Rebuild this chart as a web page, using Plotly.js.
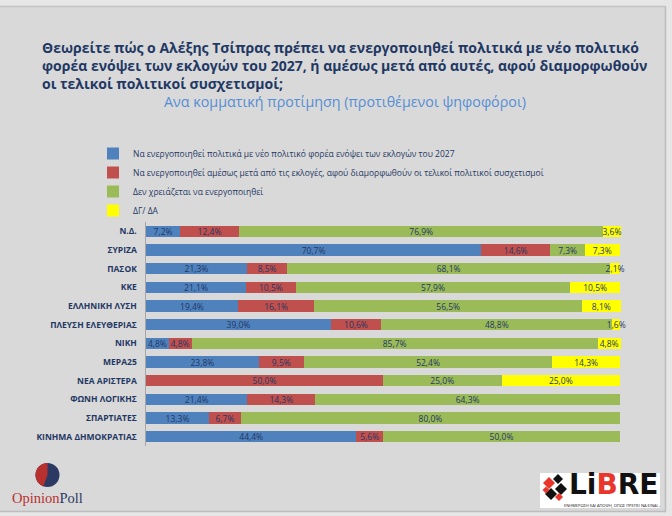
<!DOCTYPE html>
<html>
<head>
<meta charset="utf-8">
<script src="https://cdn.plot.ly/plotly-3.0.1.min.js"></script>
<style>html,body{margin:0;padding:0;background:#d9d9d9;}#chart{width:672px;height:516px;}</style>
</head>
<body>
<div id="chart"></div>
<script>
// ---- data ----
const categories = ['Ν.Δ.','ΣΥΡΙΖΑ','ΠΑΣΟΚ','ΚΚΕ','ΕΛΛΗΝΙΚΗ ΛΥΣΗ','ΠΛΕΥΣΗ ΕΛΕΥΘΕΡΙΑΣ','ΝΙΚΗ','ΜΕΡΑ25','ΝΕΑ ΑΡΙΣΤΕΡΑ','ΦΩΝΗ ΛΟΓΙΚΗΣ','ΣΠΑΡΤΙΑΤΕΣ','ΚΙΝΗΜΑ ΔΗΜΟΚΡΑΤΙΑΣ'];
const seriesNames = [
  'Να ενεργοποιηθεί πολιτικά με νέο πολιτικό φορέα ενόψει των εκλογών του 2027',
  'Να ενεργοποιηθεί αμέσως μετά από τις εκλογές, αφού διαμορφωθούν οι τελικοί πολιτικοί συσχετισμοί',
  'Δεν χρειάζεται να ενεργοποιηθεί',
  'ΔΓ/ ΔΑ'
];
const newPartyBefore2027 = [7.2, 70.7, 21.3, 21.1, 19.4, 39.0, 4.8, 23.8, 0, 21.4, 13.3, 44.4];
const rightAfterElections = [12.4, 14.6, 8.5, 10.5, 16.1, 10.6, 4.8, 9.5, 50.0, 14.3, 6.7, 5.6];
const noNeed = [76.9, 7.3, 68.1, 57.9, 56.5, 48.8, 85.7, 52.4, 25.0, 64.3, 80.0, 50.0];
const dontKnow = [3.6, 7.3, 2.1, 10.5, 8.1, 1.6, 4.8, 14.3, 25.0, 0, 0, 0];
const titleLines = [
  'Θεωρείτε πώς ο Αλέξης Τσίπρας πρέπει να ενεργοποιηθεί πολιτικά με νέο πολιτικό',
  'φορέα ενόψει των εκλογών του 2027, ή αμέσως μετά από αυτές, αφού διαμορφωθούν',
  'οι τελικοί πολιτικοί συσχετισμοί;'
];
const subtitle = 'Ανα κομματική προτίμηση (προτιθέμενοι ψηφοφόροι)';

// ---- styles ----
const colors = ['#4f81bd', '#c0504d', '#9bbb59', '#ffff00'];
const FONT = 'Open Sans, Noto Sans, DejaVu Sans, sans-serif';
const NAVY = '#1f3864';
const WIDTH = 672, HEIGHT = 516;
const XMAX = 104;              // axis extends a little past 100% so edge labels are not clipped
const M = {l: 146, r: 33, t: 222, b: 70};
const PW = WIDTH - M.l - M.r, PH = HEIGHT - M.t - M.b;
const px = v => (v - M.l) / PW;
const py = v => (HEIGHT - M.b - v) / PH;

const fmt = v => v > 0 ? v.toFixed(1).replace('.', ',') + '%' : '';
const seriesValues = [newPartyBefore2027, rightAfterElections, noNeed, dontKnow];

const traces = seriesValues.map((vals, i) => ({
  type: 'bar',
  orientation: 'h',
  name: seriesNames[i],
  y: categories,
  x: vals,
  text: vals.map(fmt),
  textposition: 'inside',
  insidetextanchor: 'middle',
  constraintext: 'none',
  textangle: 0,
  textfont: {family: FONT, size: 8.5, color: NAVY},
  marker: {color: colors[i], line: {width: 0}},
  hoverinfo: 'none'
}));

const annotations = [];
titleLines.forEach((t, i) => {
  annotations.push({
    text: t, xref: 'paper', yref: 'paper', x: px(40), y: py(47 + i * 18),
    xanchor: 'left', yanchor: 'middle', showarrow: false,
    font: {family: FONT, size: 14, color: NAVY, weight: 'bold'}
  });
});
annotations.push({
  text: subtitle, xref: 'paper', yref: 'paper', x: px(345), y: py(102),
  xanchor: 'center', yanchor: 'middle', showarrow: false,
  font: {family: FONT, size: 14.3, color: '#558ed5', weight: 500}
});
// OpinionPoll logo text
annotations.push({
  text: '<span style="color:#b8312f">Opinion</span><span style="color:#2c3a63">Poll</span>',
  xref: 'paper', yref: 'paper', x: px(10), y: py(498), xanchor: 'left', yanchor: 'middle',
  showarrow: false, font: {family: 'Liberation Serif, DejaVu Serif, serif', size: 14.5}
});
// LiBRE logo text
annotations.push({
  text: 'LiBRE'.replace('B', '<span style="color:#e8362d">B</span>'),
  xref: 'paper', yref: 'paper', x: px(567), y: py(484.5), xanchor: 'left', yanchor: 'middle',
  showarrow: false, font: {family: 'DejaVu Sans, sans-serif', size: 28, color: '#111111', weight: 'bold'}
});
annotations.push({
  text: 'ΕΝΗΜΕΡΩΣΗ ΚΑΙ ΑΠΟΨΗ, ΟΠΩΣ ΠΡΕΠΕΙ ΝΑ ΕΙΝΑΙ...',
  xref: 'paper', yref: 'paper', x: px(612), y: py(505.5), xanchor: 'center', yanchor: 'middle',
  showarrow: false, font: {family: FONT, size: 4, color: '#111111'}
});

function rect(x0, y0, x1, y1, fill, lineColor, lw) {
  return {type: 'rect', xref: 'paper', yref: 'paper', x0: px(x0), x1: px(x1), y0: py(y0), y1: py(y1),
    fillcolor: fill, line: {color: lineColor || fill, width: lw || 0}, layer: 'below'};
}
function diamond(cx, cy, r, fill) {
  const p = [[cx, cy - r], [cx + r, cy], [cx, cy + r], [cx - r, cy]];
  return {type: 'path', xref: 'paper', yref: 'paper',
    path: 'M' + p.map(q => px(q[0]) + ',' + py(q[1])).join('L') + 'Z',
    fillcolor: fill, line: {width: 0}, layer: 'above'};
}
function sector(cx, cy, r, a0, a1, fill) {
  // angles in degrees, 0 = up, clockwise
  let pts = [[cx, cy]];
  for (let a = a0; a <= a1; a += 5) {
    const rad = a * Math.PI / 180;
    pts.push([cx + r * Math.sin(rad), cy - r * Math.cos(rad)]);
  }
  return {type: 'path', xref: 'paper', yref: 'paper',
    path: 'M' + pts.map(q => px(q[0]) + ',' + py(q[1])).join('L') + 'Z',
    fillcolor: fill, line: {width: 0}, layer: 'above'};
}

const shapes = [
  // frame / border shading
  rect(0, 0, 672, 6, '#e6e6e6'),
  rect(666, 0, 672, 516, '#e6e6e6'),
  rect(0, 512, 672, 516, '#e6e6e6'),
  {type: 'line', xref: 'paper', yref: 'paper', x0: px(0), x1: px(666), y0: py(6.5), y1: py(6.5), line: {color: '#c4c4c4', width: 1.5}, layer: 'below'},
  {type: 'line', xref: 'paper', yref: 'paper', x0: px(665.5), x1: px(665.5), y0: py(6.5), y1: py(511.5), line: {color: '#bdbdbd', width: 1.5}, layer: 'below'},
  {type: 'line', xref: 'paper', yref: 'paper', x0: px(0), x1: px(666), y0: py(511.5), y1: py(511.5), line: {color: '#bdbdbd', width: 1.5}, layer: 'below'},
  // OpinionPoll logo
  {type: 'circle', xref: 'paper', yref: 'paper', x0: px(35.5), x1: px(59.5), y0: py(463), y1: py(487), fillcolor: '#2c3a63', line: {width: 0}, layer: 'above'},
  sector(47.5, 475, 12, 200, 360, '#b8312f'),
  // LiBRE logo
  rect(540, 473, 660, 508, '#ffffff'),
  diamond(549, 483, 6, '#e8362d'),
  diamond(558, 479, 5, '#111111'),
  diamond(561, 489, 6, '#111111'),
  diamond(551, 494, 6, '#111111'),
  diamond(559, 497, 4, '#e8362d'),
  diamond(546, 490, 3.5, '#e8362d')
];

const layout = {
  width: WIDTH, height: HEIGHT,
  margin: M,
  paper_bgcolor: '#d9d9d9',
  plot_bgcolor: 'rgba(0,0,0,0)',
  barmode: 'stack',
  bargap: 0.38,
  showlegend: true,
  legend: {
    x: px(93), y: py(139), xanchor: 'left', yanchor: 'top',
    traceorder: 'normal', bgcolor: 'rgba(0,0,0,0)',
    font: {family: FONT, size: 8.5, color: NAVY}
  },
  xaxis: {range: [0, XMAX], visible: false, fixedrange: true},
  yaxis: {
    type: 'category', autorange: 'reversed',
    showline: true, linecolor: '#a6a6a6', linewidth: 1.5,
    showgrid: false, zeroline: false, ticks: '',
    ticklabelstandoff: 6,
    tickfont: {family: FONT, size: 8.5, color: NAVY, weight: 'bold'}
  },
  annotations: annotations,
  shapes: shapes,
  font: {family: FONT}
};

Plotly.newPlot('chart', traces, layout, {staticPlot: true, displayModeBar: false});
</script>
</body>
</html>
